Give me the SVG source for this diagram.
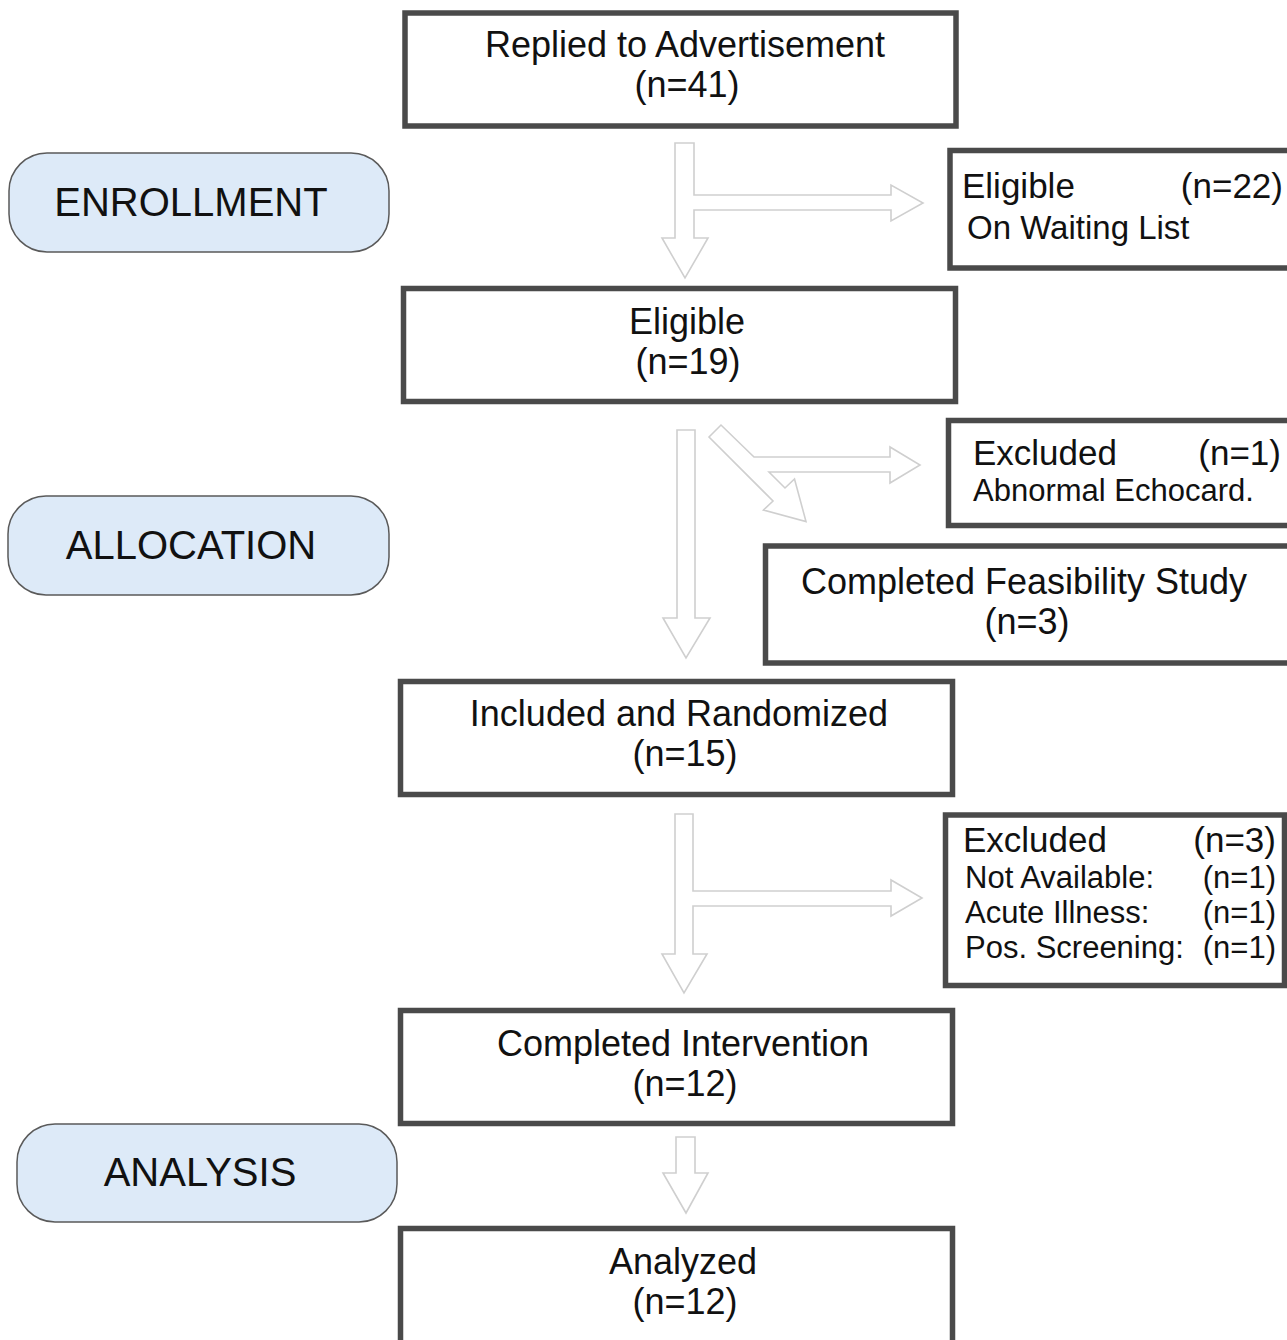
<svg xmlns="http://www.w3.org/2000/svg" width="1287" height="1340" viewBox="0 0 1287 1340">
<style>
.box{fill:#fff;stroke:#4a4a4a;stroke-width:5.5}
.pill{fill:#ddeaf8;stroke:#5a5a5a;stroke-width:1.5}
.arr{fill:#fff;stroke:#cfcfcf;stroke-width:1.6;stroke-linejoin:miter}
text{font-family:"Liberation Sans",Arial,sans-serif;fill:#111}
.m{font-size:36px;text-anchor:middle}
.p{font-size:40px;text-anchor:middle}
.h{font-size:35px}
.s{font-size:31px}
.e{text-anchor:end}
</style>
<rect width="1287" height="1340" fill="#fff"/>
<g id="connectors">
<path class="arr" d="M675,143 L694,143 L694,195 L891,195 L891,185 L923,203 L891,221 L891,210 L694,210 L694,238 L708,238 L685,278 L662,238 L675,238 Z"/>
<path class="arr" d="M677,430 L695,430 L695,618 L710,618 L686,658 L663,618 L677,618 Z"/>
<path class="arr" d="M709,437 L721,425 L754,457 L890,457 L890,447 L920,465 L890,483 L890,472 L769,472 L785,488 L794.5,479 L806,521.5 L763.5,510 L773,501 Z"/>
<path class="arr" d="M675,814 L693,814 L693,891 L891,891 L891,880 L922,898 L891,916 L891,906 L693,906 L693,954 L707,954 L684,993 L662,954 L675,954 Z"/>
<path class="arr" d="M676,1137 L695,1137 L695,1173 L708,1173 L686,1213 L663,1173 L676,1173 Z"/>
</g>
<g id="enrollment">
<rect class="pill" x="9" y="153" width="380" height="99" rx="38"/>
<text class="p" x="191" y="216">ENROLLMENT</text>
</g>
<g id="allocation">
<rect class="pill" x="8" y="496" width="381" height="99" rx="38"/>
<text class="p" x="191" y="559">ALLOCATION</text>
</g>
<g id="analysis">
<rect class="pill" x="17" y="1124" width="380" height="98" rx="38"/>
<text class="p" x="200" y="1186">ANALYSIS</text>
</g>
<g id="replied">
<rect class="box" x="405" y="13" width="551" height="113"/>
<text class="m" x="685" y="57">Replied to Advertisement</text>
<text class="m" x="687" y="97">(n=41)</text>
</g>
<g id="waiting">
<rect class="box" x="950" y="150.5" width="360" height="117.5"/>
<text class="h" x="962" y="198">Eligible</text>
<text class="h e" x="1283" y="198">(n=22)</text>
<text class="s" x="967" y="239" style="font-size:33px">On Waiting List</text>
</g>
<g id="eligible">
<rect class="box" x="403.5" y="288.5" width="552" height="113"/>
<text class="m" x="687" y="334">Eligible</text>
<text class="m" x="688" y="374">(n=19)</text>
</g>
<g id="excluded1">
<rect class="box" x="948.5" y="420.5" width="360" height="105"/>
<text class="h" x="973" y="465">Excluded</text>
<text class="h e" x="1281" y="465">(n=1)</text>
<text class="s" x="973" y="501">Abnormal Echocard.</text>
</g>
<g id="feasibility">
<rect class="box" x="765.5" y="546" width="560" height="117"/>
<text class="m" x="1024" y="594">Completed Feasibility Study</text>
<text class="m" x="1027" y="634">(n=3)</text>
</g>
<g id="randomized">
<rect class="box" x="400.5" y="681.5" width="552" height="113"/>
<text class="m" x="679" y="726">Included and Randomized</text>
<text class="m" x="685" y="766">(n=15)</text>
</g>
<g id="excluded3">
<rect class="box" x="945.5" y="815" width="339" height="170.5"/>
<text class="h" x="963" y="852">Excluded</text>
<text class="h e" x="1276" y="852">(n=3)</text>
<text class="s" x="965" y="888">Not Available:</text>
<text class="s e" x="1276" y="888">(n=1)</text>
<text class="s" x="965" y="923">Acute Illness:</text>
<text class="s e" x="1276" y="923">(n=1)</text>
<text class="s" x="965" y="958">Pos. Screening:</text>
<text class="s e" x="1276" y="958">(n=1)</text>
</g>
<g id="intervention">
<rect class="box" x="400.5" y="1010.5" width="552" height="113"/>
<text class="m" x="683" y="1056">Completed Intervention</text>
<text class="m" x="685" y="1096">(n=12)</text>
</g>
<g id="analyzed">
<rect class="box" x="400.5" y="1228.5" width="552" height="200"/>
<text class="m" x="683" y="1274">Analyzed</text>
<text class="m" x="685" y="1314">(n=12)</text>
</g>
</svg>
